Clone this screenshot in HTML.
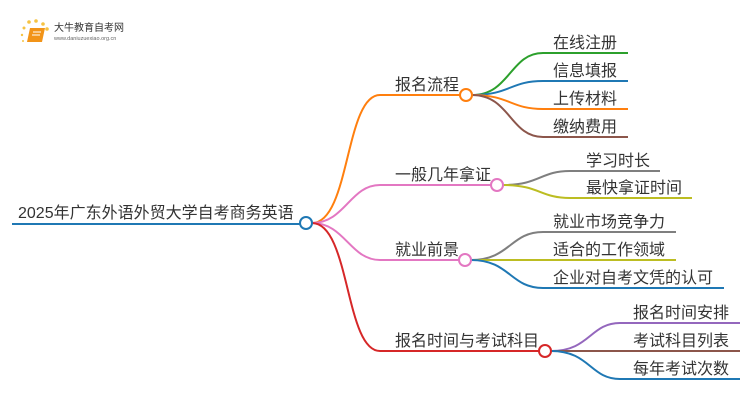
<!DOCTYPE html>
<html><head><meta charset="utf-8"><style>
body{margin:0;background:#fff}
svg text{font-family:"Liberation Sans","Noto Sans CJK SC",sans-serif;font-size:16px;fill:#333}
</style></head><body>
<svg width="750" height="410" viewBox="0 0 750 410" xmlns="http://www.w3.org/2000/svg" fill="none" stroke-width="2">
<!-- logo -->
<g>
<circle cx="24" cy="28" r="1.5" fill="#f6c343" stroke="none"/><circle cx="29" cy="22" r="1.8" fill="#f6c343" stroke="none"/><circle cx="36" cy="21" r="1.8" fill="#f6c343" stroke="none"/><circle cx="43" cy="24" r="1.8" fill="#f6c343" stroke="none"/><circle cx="47" cy="29" r="1.8" fill="#f6c343" stroke="none"/><circle cx="22" cy="35" r="1.2" fill="#f6c343" stroke="none"/><circle cx="23" cy="41" r="1" fill="#f6c343" stroke="none"/>
<path d="M30 28H45L42 42H27Z" fill="#f29418" stroke="none"/>
<path d="M33 32H41M32 35H40" stroke="#fff" stroke-width="1"/>
<text x="54" y="31" style="font-size:10px;fill:#333">大牛教育自考网</text>
<text x="54" y="40" style="font-size:5.5px;fill:#666">www.daniuzuexiao.org.cn</text>
</g>
<!-- root -->
<text x="18" y="218">2025年广东外语外贸大学自考商务英语</text>
<path d="M12 224H300" stroke="#1f78b4"/>
<!-- main branches -->
<path d="M312 223C350 223 345 95 380 95H460" stroke="#ff7f0e"/>
<path d="M312 223C345 223 350 185 380 185H491" stroke="#e377c2"/>
<path d="M312 223C345 223 350 260 380 260H459" stroke="#e377c2"/>
<path d="M312 223C350 223 345 351 380 351H539" stroke="#d62728"/>
<circle cx="306" cy="223" r="6" fill="#fff" stroke="#1f78b4"/>
<text x="395" y="90">报名流程</text>
<text x="395" y="180">一般几年拿证</text>
<text x="395" y="255">就业前景</text>
<text x="395" y="346">报名时间与考试科目</text>
<!-- branch1 children -->
<path d="M472 95C510 95 510 53 543 53H628" stroke="#2ca02c"/>
<path d="M472 95C510 95 510 81 543 81H628" stroke="#1f78b4"/>
<path d="M472 95C510 95 510 109 543 109H628" stroke="#ff7f0e"/>
<path d="M472 95C510 95 510 137 543 137H628" stroke="#8c564b"/>
<circle cx="466" cy="95" r="6" fill="#fff" stroke="#ff7f0e"/>
<text x="553" y="48">在线注册</text>
<text x="553" y="76">信息填报</text>
<text x="553" y="104">上传材料</text>
<text x="553" y="132">缴纳费用</text>
<!-- branch2 -->
<path d="M503 185C540 185 540 171 570 171H660" stroke="#7f7f7f"/>
<path d="M503 185C540 185 540 198 570 198H692" stroke="#bcbd22"/>
<circle cx="497" cy="185" r="6" fill="#fff" stroke="#e377c2"/>
<text x="586" y="166">学习时长</text>
<text x="586" y="193">最快拿证时间</text>
<!-- branch3 -->
<path d="M471 260C510 260 510 232 543 232H676" stroke="#7f7f7f"/>
<path d="M471 260H676" stroke="#bcbd22"/>
<path d="M471 260C510 260 510 288 543 288H724" stroke="#1f78b4"/>
<circle cx="465" cy="260" r="6" fill="#fff" stroke="#e377c2"/>
<text x="553" y="227">就业市场竞争力</text>
<text x="553" y="255">适合的工作领域</text>
<text x="553" y="283">企业对自考文凭的认可</text>
<!-- branch4 -->
<path d="M551 351C590 351 590 323 620 323H740" stroke="#9467bd"/>
<path d="M551 351H740" stroke="#8c564b"/>
<path d="M551 351C590 351 590 379 620 379H740" stroke="#1f78b4"/>
<circle cx="545" cy="351" r="6" fill="#fff" stroke="#d62728"/>
<text x="633" y="318">报名时间安排</text>
<text x="633" y="346">考试科目列表</text>
<text x="633" y="374">每年考试次数</text>
</svg>
</body></html>
